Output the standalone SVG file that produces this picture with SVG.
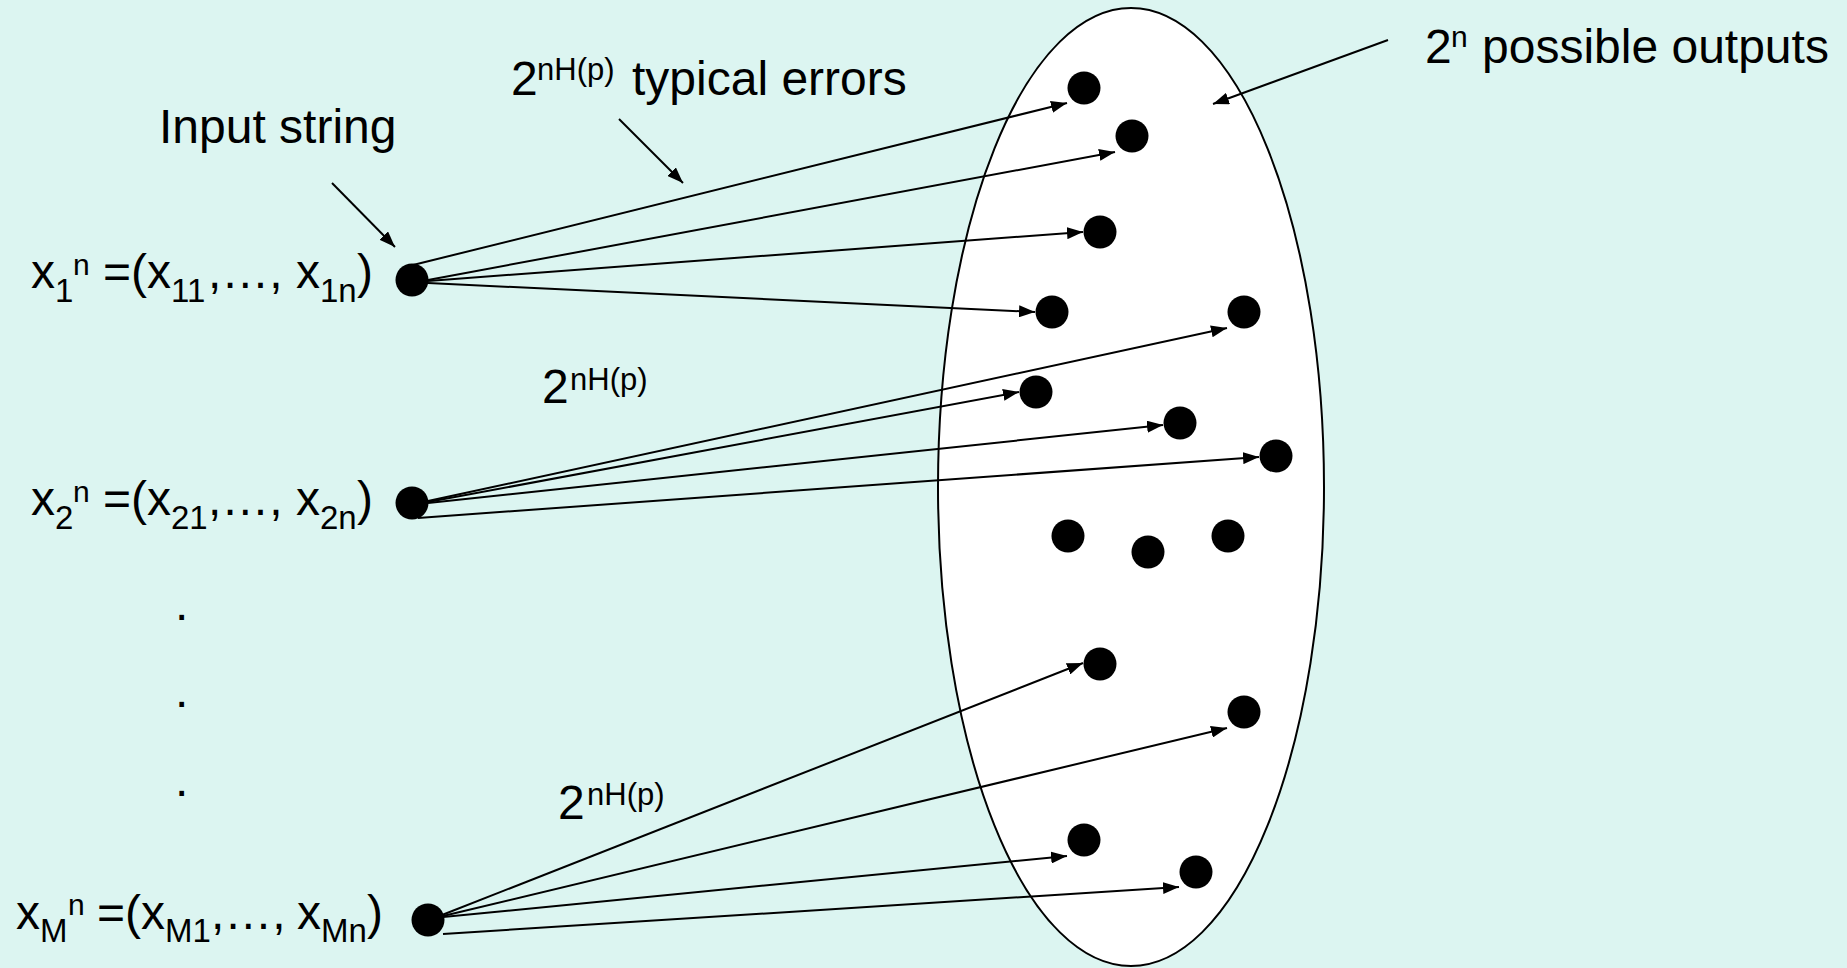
<svg xmlns="http://www.w3.org/2000/svg" width="1847" height="968" viewBox="0 0 1847 968">
<style>
text{font-family:"Liberation Sans",Arial,Helvetica,sans-serif;fill:#000}
.m{font-size:48px}
.sb{font-size:33px}
.sp{font-size:30px}
.sq{font-size:31px}
.dot{fill:#000}
.ln{stroke:#000;stroke-width:2;fill:none;marker-end:url(#ah)}
</style>
<defs>
<marker id="ah" viewBox="0 0 16 12" refX="16" refY="6" markerWidth="16" markerHeight="12" markerUnits="userSpaceOnUse" orient="auto">
<path d="M0,0 L16,6 L0,12 z" fill="#000"/>
</marker>
</defs>
<rect x="0" y="0" width="1847" height="968" fill="#dcf5f1"/>
<g id="outputs">
<ellipse cx="1131" cy="487" rx="193" ry="479" fill="#fff" stroke="#000" stroke-width="2"/>
<circle class="dot" cx="1084" cy="88" r="16.5"/>
<circle class="dot" cx="1132" cy="136" r="16.5"/>
<circle class="dot" cx="1100" cy="232" r="16.5"/>
<circle class="dot" cx="1052" cy="312" r="16.5"/>
<circle class="dot" cx="1244" cy="312" r="16.5"/>
<circle class="dot" cx="1036" cy="392" r="16.5"/>
<circle class="dot" cx="1180" cy="423" r="16.5"/>
<circle class="dot" cx="1276" cy="456" r="16.5"/>
<circle class="dot" cx="1068" cy="536" r="16.5"/>
<circle class="dot" cx="1148" cy="552" r="16.5"/>
<circle class="dot" cx="1228" cy="536" r="16.5"/>
<circle class="dot" cx="1100" cy="664" r="16.5"/>
<circle class="dot" cx="1244" cy="712" r="16.5"/>
<circle class="dot" cx="1084" cy="840" r="16.5"/>
<circle class="dot" cx="1196" cy="872" r="16.5"/>
</g>
<g id="input1">
<circle class="dot" cx="412" cy="280" r="16.5"/>
<text class="m" y="288"><tspan x="31">x</tspan><tspan class="sb" x="55" y="302">1</tspan><tspan class="sp" x="73" y="275">n</tspan><tspan x="103" y="288">=(x</tspan><tspan class="sb" x="171" y="302">11</tspan><tspan x="208" y="288">,…,</tspan><tspan x="296">x</tspan><tspan class="sb" x="320" y="302">1n</tspan><tspan x="357" y="288">)</tspan></text>
</g>
<g id="input2">
<circle class="dot" cx="412" cy="503" r="16.5"/>
<text class="m" y="515"><tspan x="31">x</tspan><tspan class="sb" x="55" y="529">2</tspan><tspan class="sp" x="73" y="502">n</tspan><tspan x="103" y="515">=(x</tspan><tspan class="sb" x="171" y="529">21</tspan><tspan x="208" y="515">,…,</tspan><tspan x="296">x</tspan><tspan class="sb" x="320" y="529">2n</tspan><tspan x="357" y="515">)</tspan></text>
</g>
<g id="ellipsis-dots">
<text class="m" x="175" y="620">.</text>
<text class="m" x="175" y="707">.</text>
<text class="m" x="175" y="796">.</text>
</g>
<g id="inputM">
<circle class="dot" cx="428" cy="920" r="16.5"/>
<text class="m" y="929"><tspan x="16">x</tspan><tspan class="sb" x="40" y="942">M</tspan><tspan class="sp" x="68" y="915">n</tspan><tspan x="97" y="929">=(x</tspan><tspan class="sb" x="165" y="942">M1</tspan><tspan x="211" y="929">,…,</tspan><tspan x="297">x</tspan><tspan class="sb" x="321" y="942">Mn</tspan><tspan x="367" y="929">)</tspan></text>
</g>
<g id="label-input">
<text class="m" x="159" y="143">Input string</text>
</g>
<g id="label-errors">
<text class="m" x="511" y="95">2<tspan class="sq" x="537" y="80">nH(p)</tspan><tspan x="632" y="95">typical errors</tspan></text>
</g>
<g id="label-outputs">
<text class="m" x="1425" y="63">2<tspan class="sp" x="1451" y="47">n</tspan><tspan x="1482" y="63">possible outputs</tspan></text>
</g>
<g id="label-mid">
<text class="m" x="542" y="403">2<tspan class="sq" x="570" y="390">nH(p)</tspan></text>
</g>
<g id="label-bottom">
<text class="m" x="558" y="819">2<tspan class="sq" x="587" y="805">nH(p)</tspan></text>
</g>
<g id="connectors">
<line class="ln" x1="413" y1="265" x2="1067" y2="103"/>
<line class="ln" x1="428" y1="280" x2="1115" y2="152"/>
<line class="ln" x1="428" y1="281" x2="1083" y2="232"/>
<line class="ln" x1="428" y1="283" x2="1035" y2="312"/>
<line class="ln" x1="428" y1="501" x2="1227" y2="328"/>
<line class="ln" x1="428" y1="502" x2="1019" y2="392"/>
<line class="ln" x1="428" y1="503" x2="1163" y2="425"/>
<line class="ln" x1="418" y1="518" x2="1259" y2="457"/>
<line class="ln" x1="442" y1="915" x2="1083" y2="663"/>
<line class="ln" x1="443" y1="916" x2="1227" y2="728"/>
<line class="ln" x1="443" y1="917" x2="1067" y2="856"/>
<line class="ln" x1="443" y1="934" x2="1179" y2="887"/>
<line class="ln" x1="332" y1="183" x2="395" y2="247"/>
<line class="ln" x1="619" y1="119" x2="683" y2="183"/>
<line class="ln" x1="1388" y1="40" x2="1213" y2="104"/>
</g>
</svg>
